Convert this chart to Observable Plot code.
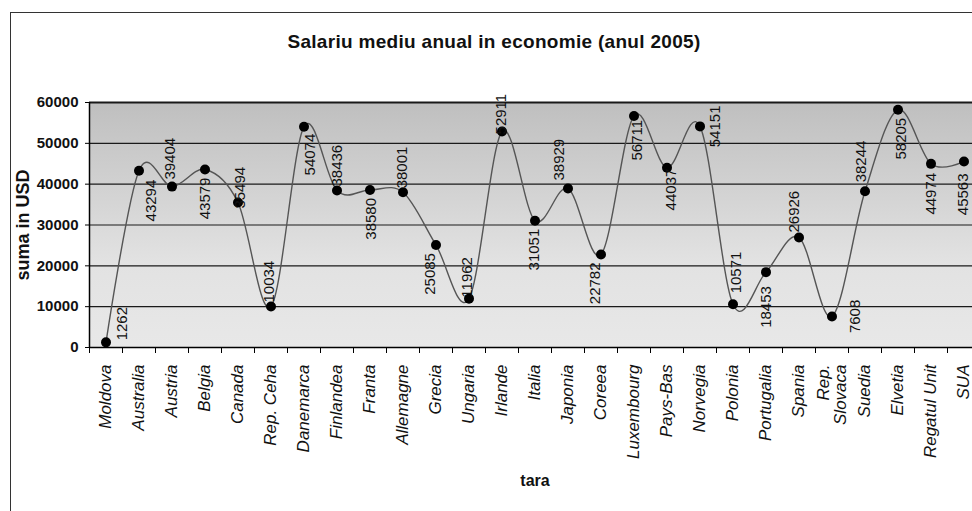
<!DOCTYPE html>
<html><head><meta charset="utf-8">
<script src="https://cdn.jsdelivr.net/npm/d3@7"></script>
<script src="https://cdn.jsdelivr.net/npm/@observablehq/plot@0.6"></script>
<style>
html,body{margin:0;padding:0;background:#fff;overflow:hidden;width:972px;height:511px;}
#wrap{position:relative;width:972px;height:511px;overflow:hidden;}
#chart{position:absolute;left:0;top:0;}
#chart svg{max-width:none;overflow:visible;}
#frame{position:absolute;left:10px;top:12px;width:1000px;height:600px;border:1.5px solid #333;box-sizing:border-box;}
#title{position:absolute;left:0;width:988px;top:32px;text-align:center;font:bold 19px "Liberation Sans",Arial,sans-serif;letter-spacing:0.3px;line-height:19px;color:#111;}
</style></head><body>
<div id="wrap"><div id="chart"></div><div id="frame"></div><div id="title">Salariu mediu anual in economie (anul 2005)</div></div>
<script>
const countries = ["Moldova","Australia","Austria","Belgia","Canada","Rep. Ceha","Danemarca","Finlandea","Franta","Allemagne","Grecia","Ungaria","Irlande","Italia","Japonia","Coreea","Luxembourg","Pays-Bas","Norvegia","Polonia","Portugalia","Spania","Rep.\nSlovaca","Suedia","Elvetia","Regatul Unit","SUA"];
const salaries = [1262,43294,39404,43579,35494,10034,54074,38436,38580,38001,25085,11962,52911,31051,38929,22782,56711,44037,54151,10571,18453,26926,7608,38244,58205,44974,45563];
const yTicks = [0,10000,20000,30000,40000,50000,60000];
const yTitle = "suma in USD";
const xTitle = "tara";

// label layout: [dx, dy, textAnchor] per point
const labelNudge = [[16,-2,"start"],[12,9,"end"],[-2,-7,"start"],[0,8,"end"],[2,6,"start"],[-2,-4,"start"],[6,7,"end"],[0,-4,"start"],[1,8,"end"],[-1,-4,"start"],[-6,8,"end"],[-2,-1,"start"],[-1,3,"start"],[-1,8,"end"],[-9,-8,"start"],[-6,8,"end"],[3,4,"end"],[4,1,"end"],[15,0,"middle"],[3,-11,"start"],[0,14,"end"],[-5,-5,"start"],[23,0,"middle"],[-4,-9,"start"],[3,8,"end"],[0,9,"end"],[-1,12,"end"]];

const data = countries.map((c,i)=>({i, name:c, value:salaries[i]}));
const idx = d3.range(countries.length);
const bounds = d3.range(-0.5, countries.length, 1);

const labelMarks = data.map((d,k)=>{
  const [dx,dy,anchor] = labelNudge[k];
  return Plot.text([d], {x:"i", y:"value", text:d=>String(d.value), rotate:-90, textAnchor:anchor, lineAnchor:"middle", dx, dy, fontSize:15, fill:"#111"});
});

const chart = Plot.plot({
  width: 990, height: 511,
  marginLeft: 89, marginRight: 10, marginTop: 102, marginBottom: 164,
  style: {fontFamily: "'Liberation Sans', Arial, sans-serif", background: "transparent", maxWidth: "none", overflow: "visible"},
  x: {type: "linear", domain: [-0.5, countries.length - 0.5], axis: null},
  y: {domain: [0, 60000], axis: null},
  marks: [
    Plot.frame({fill: "url(#bgGrad)", stroke: "none"}),
    Plot.ruleY(yTicks.slice(1), {stroke: "#1a1a1a", strokeWidth: 1.2}),
    Plot.ruleY([60000], {stroke: "#1a1a1a", strokeWidth: 1.8}),
    Plot.ruleY([0], {stroke: "#000", strokeWidth: 1.5}),
    Plot.ruleX([-0.5], {stroke: "#000", strokeWidth: 1.5}),
    Plot.axisY({ticks: yTicks, tickFormat: d3.format("d"), tickSize: 4, tickPadding: 7, fontSize: 15, fontWeight: "bold", fill: "#111", label: null}),
    Plot.axisX({ticks: bounds, tickFormat: () => "", tickSize: 6, label: null}),
    Plot.axisX({ticks: idx, tickFormat: i => countries[i], tickSize: 0, tickPadding: 17, tickRotate: -90, fontSize: 17, fontStyle: "italic", fill: "#111", label: null}),
    Plot.line(data, {x: "i", y: "value", curve: "cardinal", stroke: "#555", strokeWidth: 1.4}),
    Plot.dot(data, {x: "i", y: "value", r: 5, fill: "#000", stroke: "none"}),
    ...labelMarks,
    Plot.text([yTitle], {frameAnchor: "left", dx: -66, rotate: -90, textAnchor: "middle", lineAnchor: "middle", text: d=>d, fontSize: 18, fontWeight: "bold", fill: "#111"}),
    Plot.text([xTitle], {frameAnchor: "bottom", dy: 138, textAnchor: "middle", text: d=>d, fontSize: 16, fontWeight: "bold", fill: "#111"})
  ]
});

const svg = d3.select(chart);
const defs = svg.insert("defs", ":first-child");
const g = defs.append("linearGradient").attr("id","bgGrad").attr("x1",0).attr("y1",0).attr("x2",0).attr("y2",1);
g.append("stop").attr("offset","0%").attr("stop-color","#bfbfbf");
g.append("stop").attr("offset","65%").attr("stop-color","#e2e2e2");
g.append("stop").attr("offset","100%").attr("stop-color","#e8e8e8");
document.getElementById("chart").appendChild(chart);
</script>
</body></html>
